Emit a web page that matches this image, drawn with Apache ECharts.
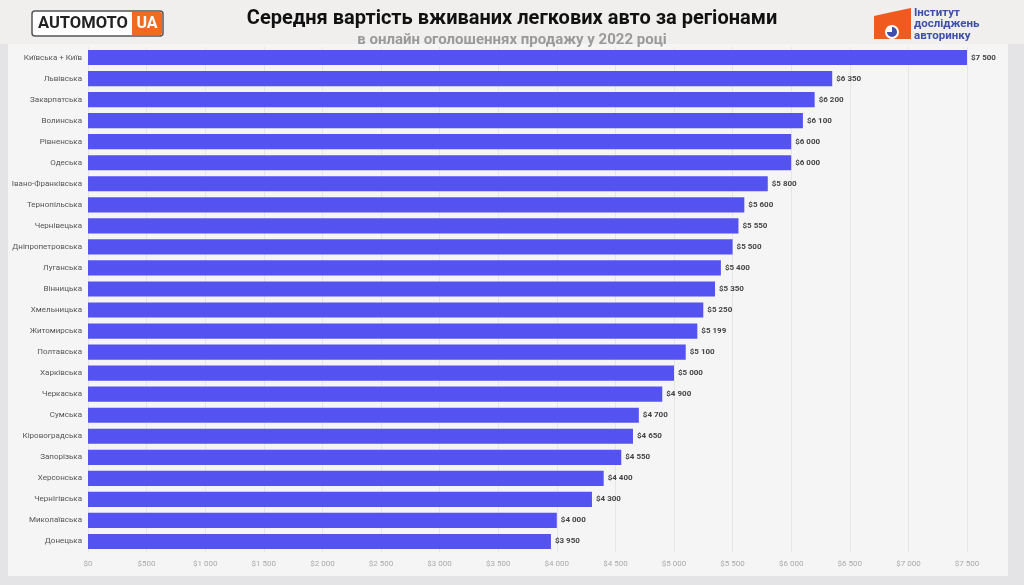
<!DOCTYPE html>
<html>
<head>
<meta charset="utf-8">
<script src="https://cdn.jsdelivr.net/npm/echarts@6/dist/echarts.min.js"></script>
<style>
  html, body { margin: 0; padding: 0; background: #e4e4e6; }
  #chart { width: 1024px; height: 585px; }
</style>
</head>
<body>
<div id="chart"></div>
<script>
// регіони (зверху вниз)
var regions = ['Київська + Київ', 'Львівська', 'Закарпатська', 'Волинська', 'Рівненська', 'Одеська',
  'Івано-Франківська', 'Тернопільська', 'Чернівецька', 'Дніпропетровська', 'Луганська', 'Вінницька',
  'Хмельницька', 'Житомирська', 'Полтавська', 'Харківська', 'Черкаська', 'Сумська',
  'Кіровоградська', 'Запорізька', 'Херсонська', 'Чернігівська', 'Миколаївська', 'Донецька']
// середня вартість, $
var prices = [7500, 6350, 6200, 6100, 6000, 6000, 5800, 5600, 5550, 5500, 5400, 5350,
  5250, 5199, 5100, 5000, 4900, 4700, 4650, 4550, 4400, 4300, 4000, 3950]

var titleText = 'Середня вартість вживаних легкових авто за регіонами'
var subtitleText = 'в онлайн оголошеннях продажу у 2022 році'

function money(v) {
  var s = String(v)
  if (s.length > 3) s = s.slice(0, s.length - 3) + ' ' + s.slice(-3)
  return '$' + s
}

var myChart = echarts.init(document.getElementById('chart'))
myChart.setOption({
  backgroundColor: '#e4e4e6',
  textStyle: { fontFamily: 'Roboto, "Noto Sans", sans-serif' },
  title: {
    text: titleText,
    subtext: subtitleText,
    left: 'center',
    top: 4,
    itemGap: 4,
    textStyle: { fontSize: 20, fontWeight: 'bold', color: '#111' },
    subtextStyle: { fontSize: 15, fontWeight: 'bold', color: '#9a9a9a' }
  },
  graphic: [
    // білий фон під графіком
    { type: 'rect', z: -10, shape: { x: 8, y: 44, width: 1000, height: 532 },
      style: { fill: '#f5f5f5' } },
    { type: 'rect', z: -11, shape: { x: 0, y: 0, width: 1024, height: 44 },
      style: { fill: '#f0efed' } },
    // логотип AUTOMOTO UA
    { type: 'rect', shape: { x: 32, y: 11, width: 131, height: 25, r: 3 },
      style: { fill: '#fff', stroke: '#555', lineWidth: 1.5 } },
    { type: 'rect', shape: { x: 132, y: 12, width: 30, height: 23, r: [0, 2, 2, 0] },
      style: { fill: '#f26a1f' } },
    { type: 'text', x: 38, y: 24, style: { text: 'AUTOMOTO', fontSize: 16.5, fontWeight: 'bold', fill: '#222',
      verticalAlign: 'middle', fontFamily: 'Roboto, sans-serif' } },
    { type: 'text', x: 147, y: 24, style: { text: 'UA', fontSize: 16, fontWeight: 'bold', fill: '#fff',
      align: 'center', verticalAlign: 'middle', fontFamily: 'Roboto, sans-serif' } },
    // логотип Інститут досліджень авторинку
    { type: 'polygon', shape: { points: [[874, 16], [892, 12], [911, 8], [911, 39], [874, 39]] },
      style: { fill: '#f05a1e' } },
    { type: 'circle', shape: { cx: 892, cy: 32, r: 7 }, style: { fill: '#fff' } },
    { type: 'sector', shape: { cx: 892, cy: 32, r: 5, startAngle: -Math.PI / 2, endAngle: Math.PI },
      style: { fill: '#3d4fa8' } },
    { type: 'text', x: 914, y: 7, style: { text: 'Інститут\nдосліджень\nавторинку', fontSize: 11.5,
      fontWeight: 'bold', fill: '#3d4fa8', lineHeight: 11.5, fontFamily: 'Roboto, sans-serif' } }
  ],
  grid: { left: 88, right: 57, top: 47, bottom: 33 },
  xAxis: {
    type: 'value',
    min: 0,
    max: 7500,
    interval: 500,
    axisLabel: { formatter: money, fontSize: 8, color: '#aaa', margin: 8 },
    splitLine: { lineStyle: { color: '#e6e6e6', width: 1 } },
    axisLine: { show: false },
    axisTick: { show: false }
  },
  yAxis: {
    type: 'category',
    inverse: true,
    data: regions,
    axisLabel: { fontSize: 8, color: '#555', margin: 6 },
    axisLine: { show: false },
    axisTick: { show: false }
  },
  series: [{
    type: 'bar',
    data: prices,
    barCategoryGap: '28%',
    itemStyle: { color: '#5552f2' },
    label: {
      show: true,
      position: 'right',
      distance: 4,
      formatter: function (p) { return money(p.value) },
      fontSize: 8,
      fontWeight: 'bold',
      color: '#444'
    }
  }]
})
</script>
</body>
</html>
